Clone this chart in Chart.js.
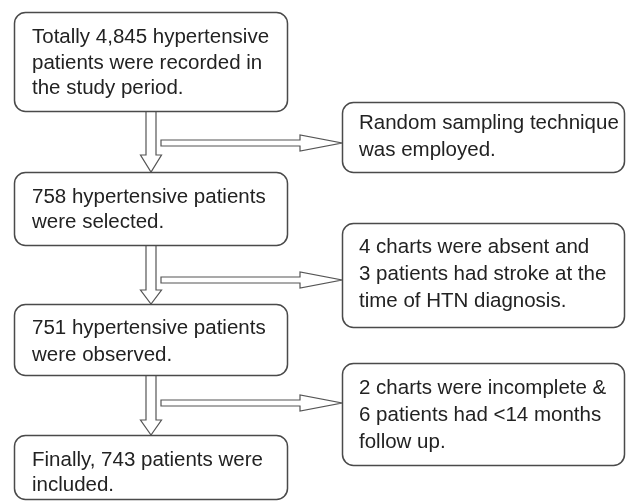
<!DOCTYPE html>
<html>
<head>
<meta charset="utf-8">
<script src="https://cdn.jsdelivr.net/npm/chart.js@4/dist/chart.umd.min.js"></script>
<style>
  html, body { margin: 0; padding: 0; background: #ffffff; }
  #wrap { width: 626px; height: 501px; }
</style>
</head>
<body>
<div id="wrap"><canvas id="c" width="626" height="501"></canvas></div>
<script>
// ---- content (data) ----
const mainSteps = [
  ["Totally 4,845 hypertensive", "patients were recorded in", "the study period."],
  ["758 hypertensive patients", "were selected."],
  ["751 hypertensive patients", "were observed."],
  ["Finally, 743 patients were", "included."]
];
const exclusions = [
  ["Random sampling technique", "was employed."],
  ["4 charts were absent and", "3 patients had stroke at the", "time of HTN diagnosis."],
  ["2 charts were incomplete &", "6 patients had <14 months", "follow up."]
];

// ---- layout (in scale units, x: 0..626, y: 0..501 top-down) ----
const mainBoxX = [14, 287];
const mainBoxY = [[12, 111], [172, 245], [304, 375], [435, 499]];
const mainTextY = [[37, 63, 88], [197, 222], [328, 355], [460, 485]];
const sideBoxX = [342, 624];
const sideBoxY = [[102, 172], [223, 327], [363, 465]];
const sideTextY = [[123, 150], [247, 274, 301], [388, 415, 442]];
const vArrowX = 151;
const vArrows = [[111, 155, 172], [245, 290, 304], [375, 420, 435]];
const hArrowY = [143, 280, 403];
const hArrowX = [161, 300, 342];

const flowPlugin = {
  id: 'flow',
  afterDraw(chart) {
    const ctx = chart.ctx;
    const X = v => chart.scales.x.getPixelForValue(v);
    const Y = v => chart.scales.y.getPixelForValue(v);

    function roundBox(x0, y0, x1, y1, r) {
      ctx.beginPath();
      ctx.roundRect(X(x0) + 0.5, Y(y0) + 0.5, X(x1) - X(x0), Y(y1) - Y(y0), r);
      ctx.fillStyle = '#ffffff';
      ctx.fill();
      ctx.lineWidth = 1.5;
      ctx.strokeStyle = '#4a4a4a';
      ctx.stroke();
    }
    function texts(lines, x, ys) {
      ctx.fillStyle = '#222222';
      ctx.font = '20.5px "Liberation Sans", Arial, sans-serif';
      ctx.textBaseline = 'middle';
      ctx.textAlign = 'left';
      lines.forEach((t, i) => ctx.fillText(t, X(x), Y(ys[i])));
    }

    // vertical hollow arrows
    vArrows.forEach(([top, hs, tip]) => {
      const cx = X(vArrowX);
      ctx.beginPath();
      ctx.moveTo(cx - 5, Y(top));
      ctx.lineTo(cx - 5, Y(hs));
      ctx.lineTo(cx - 10.5, Y(hs));
      ctx.lineTo(cx, Y(tip));
      ctx.lineTo(cx + 10.5, Y(hs));
      ctx.lineTo(cx + 5, Y(hs));
      ctx.lineTo(cx + 5, Y(top));
      ctx.fillStyle = '#ffffff';
      ctx.fill();
      ctx.lineWidth = 1.2;
      ctx.strokeStyle = '#555555';
      ctx.stroke();
    });
    // horizontal hollow arrows
    hArrowY.forEach(yv => {
      const cy = Y(yv);
      const [x0, hs, tip] = hArrowX.map(X);
      ctx.beginPath();
      ctx.moveTo(x0, cy - 3);
      ctx.lineTo(hs, cy - 3);
      ctx.lineTo(hs, cy - 8);
      ctx.lineTo(tip, cy);
      ctx.lineTo(hs, cy + 8);
      ctx.lineTo(hs, cy + 3);
      ctx.lineTo(x0, cy + 3);
      ctx.closePath();
      ctx.fillStyle = '#ffffff';
      ctx.fill();
      ctx.lineWidth = 1.2;
      ctx.strokeStyle = '#555555';
      ctx.stroke();
    });

    mainSteps.forEach((lines, i) => {
      roundBox(mainBoxX[0], mainBoxY[i][0], mainBoxX[1], mainBoxY[i][1], 11);
      texts(lines, 32, mainTextY[i]);
    });
    exclusions.forEach((lines, i) => {
      roundBox(sideBoxX[0], sideBoxY[i][0], sideBoxX[1], sideBoxY[i][1], 11);
      texts(lines, 359, sideTextY[i]);
    });
  }
};

new Chart(document.getElementById('c'), {
  type: 'scatter',
  data: { datasets: [{ data: [], pointRadius: 0 }] },
  options: {
    responsive: false,
    animation: false,
    layout: { padding: 0 },
    plugins: { legend: { display: false }, tooltip: { enabled: false } },
    scales: {
      x: { type: 'linear', min: 0, max: 626, display: false },
      y: { type: 'linear', min: 0, max: 501, reverse: true, display: false }
    }
  },
  plugins: [flowPlugin]
});
</script>
</body>
</html>
